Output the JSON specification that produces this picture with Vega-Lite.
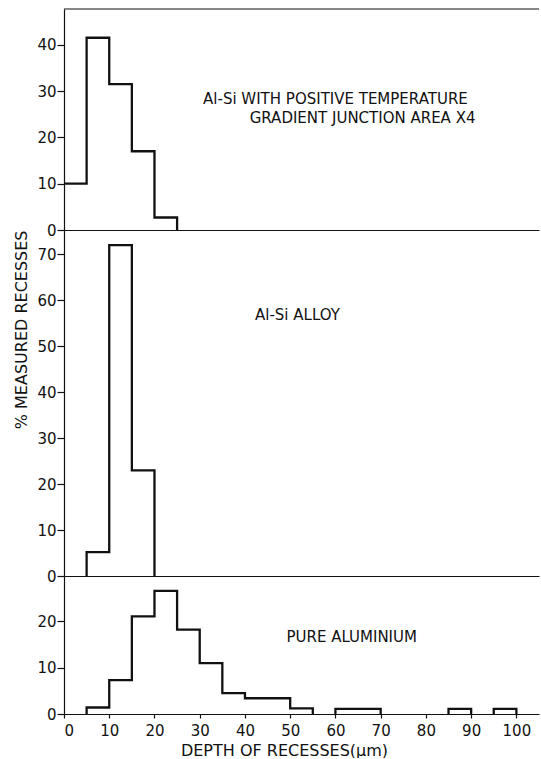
{
  "$schema": "https://vega.github.io/schema/vega-lite/v6.json",
  "padding": {"left": 13, "top": 8, "right": 0, "bottom": 0},
  "spacing": 0,
  "bounds": "flush",
  "background": "white",
  "config": {
    "view": {"stroke": null},
    "font": "DejaVu Sans",
    "axis": {"grid": false, "domainColor": "#111", "tickColor": "#111", "labelColor": "#111", "titleColor": "#111", "labelFont": "DejaVu Sans", "titleFont": "DejaVu Sans", "labelFontSize": 15, "titleFontSize": 16, "titleFontWeight": "normal", "domainWidth": 1.2, "tickWidth": 1.2},
    "axisY": {"tickSize": 7, "labelPadding": 1}
  },
  "datasets": {
    "p1": [
      {"i": 0, "seg": "a", "depth": 0, "pct": 10},
      {"i": 1, "seg": "a", "depth": 5, "pct": 41.5},
      {"i": 2, "seg": "a", "depth": 10, "pct": 31.5},
      {"i": 3, "seg": "a", "depth": 15, "pct": 17},
      {"i": 4, "seg": "a", "depth": 20, "pct": 2.7},
      {"i": 5, "seg": "a", "depth": 25, "pct": 0}
    ],
    "p2": [
      {"i": 0, "seg": "a", "depth": 5, "pct": 0},
      {"i": 1, "seg": "a", "depth": 5, "pct": 5.2},
      {"i": 2, "seg": "a", "depth": 10, "pct": 72},
      {"i": 3, "seg": "a", "depth": 15, "pct": 23},
      {"i": 4, "seg": "a", "depth": 20, "pct": 0}
    ],
    "p3": [
      {"i": 0, "seg": "a", "depth": 5, "pct": 0},
      {"i": 1, "seg": "a", "depth": 5, "pct": 1.4},
      {"i": 2, "seg": "a", "depth": 10, "pct": 7.3},
      {"i": 3, "seg": "a", "depth": 15, "pct": 21.1},
      {"i": 4, "seg": "a", "depth": 20, "pct": 26.6},
      {"i": 5, "seg": "a", "depth": 25, "pct": 18.2},
      {"i": 6, "seg": "a", "depth": 30, "pct": 11},
      {"i": 7, "seg": "a", "depth": 35, "pct": 4.5},
      {"i": 8, "seg": "a", "depth": 40, "pct": 3.4},
      {"i": 9, "seg": "a", "depth": 50, "pct": 1.2},
      {"i": 10, "seg": "a", "depth": 55, "pct": 0},
      {"i": 11, "seg": "b", "depth": 60, "pct": 0},
      {"i": 12, "seg": "b", "depth": 60, "pct": 1.1},
      {"i": 13, "seg": "b", "depth": 70, "pct": 0},
      {"i": 14, "seg": "c", "depth": 85, "pct": 0},
      {"i": 15, "seg": "c", "depth": 85, "pct": 1.1},
      {"i": 16, "seg": "c", "depth": 90, "pct": 0},
      {"i": 17, "seg": "d", "depth": 95, "pct": 0},
      {"i": 18, "seg": "d", "depth": 95, "pct": 1.1},
      {"i": 19, "seg": "d", "depth": 100, "pct": 0}
    ],
    "one": [{}]
  },
  "vconcat": [
    {
      "width": 475,
      "height": 221,
      "layer": [
        {
          "data": {"name": "p1"},
          "mark": {"type": "line", "interpolate": "step-after", "color": "#111", "strokeWidth": 2.3},
          "encoding": {
            "x": {"field": "depth", "type": "quantitative", "scale": {"domain": [0, 105], "nice": false}, "axis": {"orient": "bottom", "title": null, "labels": false, "ticks": false}},
            "y": {"field": "pct", "type": "quantitative", "scale": {"domain": [0, 47.7], "nice": false}, "axis": {"values": [0, 10, 20, 30, 40], "title": null}},
            "detail": {"field": "seg"},
            "order": {"field": "i"}
          }
        },
        {
          "data": {"name": "one"},
          "mark": {"type": "rule", "color": "#111", "strokeWidth": 1.2},
          "encoding": {"y": {"datum": 47.7}}
        },
        {
          "data": {"name": "one"},
          "mark": {"type": "text", "fontSize": 15, "letterSpacing": 2, "align": "center", "baseline": "middle", "color": "#111"},
          "encoding": {"x": {"datum": 60}, "y": {"datum": 28.2}, "text": {"value": "Al-Si WITH POSITIVE TEMPERATURE"}}
        },
        {
          "data": {"name": "one"},
          "mark": {"type": "text", "fontSize": 15, "letterSpacing": 2, "align": "center", "baseline": "middle", "color": "#111"},
          "encoding": {"x": {"datum": 66}, "y": {"datum": 24.2}, "text": {"value": "GRADIENT JUNCTION AREA X4"}}
        }
      ]
    },
    {
      "width": 475,
      "height": 346,
      "layer": [
        {
          "data": {"name": "p2"},
          "mark": {"type": "line", "interpolate": "step-after", "color": "#111", "strokeWidth": 2.3},
          "encoding": {
            "x": {"field": "depth", "type": "quantitative", "scale": {"domain": [0, 105], "nice": false}, "axis": {"orient": "bottom", "title": null, "labels": false, "ticks": false}},
            "y": {"field": "pct", "type": "quantitative", "scale": {"domain": [0, 75.3], "nice": false}, "axis": {"values": [0, 10, 20, 30, 40, 50, 60, 70], "title": "% MEASURED RECESSES", "titleAnchor": "end", "titlePadding": 7}},
            "detail": {"field": "seg"},
            "order": {"field": "i"}
          }
        },
        {
          "data": {"name": "one"},
          "mark": {"type": "text", "fontSize": 15, "letterSpacing": 2, "align": "center", "baseline": "middle", "color": "#111"},
          "encoding": {"x": {"datum": 51.6}, "y": {"datum": 56.9}, "text": {"value": "Al-Si ALLOY"}}
        }
      ]
    },
    {
      "width": 475,
      "height": 138,
      "layer": [
        {
          "data": {"name": "p3"},
          "mark": {"type": "line", "interpolate": "step-after", "color": "#111", "strokeWidth": 2.3},
          "encoding": {
            "x": {"field": "depth", "type": "quantitative", "scale": {"domain": [0, 105], "nice": false}, "axis": {"orient": "bottom", "values": [0, 10, 20, 30, 40, 50, 60, 70, 80, 90, 100], "tickSize": 4, "labelPadding": 5, "title": "DEPTH OF RECESSES(µm)", "titleX": 220, "titlePadding": 4}},
            "y": {"field": "pct", "type": "quantitative", "scale": {"domain": [0, 29.8], "nice": false}, "axis": {"values": [0, 10, 20], "title": null}},
            "detail": {"field": "seg"},
            "order": {"field": "i"}
          }
        },
        {
          "data": {"name": "one"},
          "mark": {"type": "text", "fontSize": 15, "letterSpacing": 2, "align": "center", "baseline": "middle", "color": "#111"},
          "encoding": {"x": {"datum": 63.6}, "y": {"datum": 16.6}, "text": {"value": "PURE ALUMINIUM"}}
        }
      ]
    }
  ]
}
